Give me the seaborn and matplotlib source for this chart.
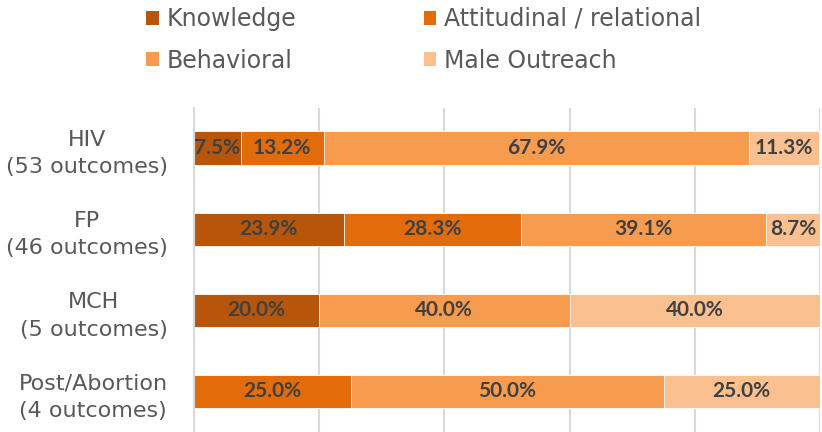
import numpy as np
import pandas as pd
import matplotlib
matplotlib.use("Agg")
import matplotlib.pyplot as plt
import seaborn as sns
from matplotlib.patches import Patch

categories = ["HIV\n(53 outcomes)", "FP\n(46 outcomes)", "MCH\n(5 outcomes)", "Post/Abortion\n(4 outcomes)"]
series_names = ["Knowledge", "Attitudinal / relational", "Behavioral", "Male Outreach"]
knowledge = [7.5, 23.9, 20.0, 0.0]
attitudinal = [13.2, 28.3, 0.0, 25.0]
behavioral = [67.9, 39.1, 40.0, 50.0]
male_outreach = [11.3, 8.7, 40.0, 25.0]
colors = ["#B7560A", "#E36C0A", "#F79B4F", "#FAC090"]

sns.set_theme(style="white")
plt.rcParams['font.family'] = ['DejaVu Sans']

values = np.array([knowledge, attitudinal, behavioral, male_outreach])
cum = np.cumsum(values, axis=0)

fig = plt.figure(figsize=(8.22, 4.32), dpi=100)
ax = fig.add_axes([0.236, 0.0, 0.7616, 0.751])

# draw cumulative bars from the last series to the first (stacked look)
for i in range(len(series_names) - 1, -1, -1):
    df = pd.DataFrame({"cat": categories, "val": cum[i]})
    sns.barplot(data=df, y="cat", x="val", orient="h", order=categories,
                color=colors[i], saturation=1, width=0.41,
                edgecolor="white", linewidth=0.6, ax=ax, zorder=2)

# data labels
for i in range(len(series_names)):
    for j in range(len(categories)):
        v = values[i, j]
        if v <= 0:
            continue
        xc = cum[i, j] - v / 2
        ax.text(xc, j, f"{v:.1f}%", ha="center", va="center",
                fontsize=15, fontweight="bold", color="#404040",
                family="Lato", zorder=5)

ax.set_xlim(0, 100)
ax.set_ylim(3.5, -0.5)
ax.set_xticks([0, 20, 40, 60, 80, 100])
ax.set_xticklabels([])
ax.tick_params(axis="x", length=0)
ax.tick_params(axis="y", length=0, pad=19, labelsize=16, labelcolor="#595959")
for lab in ax.get_yticklabels():
    lab.set_multialignment("center")
    lab.set_linespacing(1.45)
ax.grid(axis="x", color="#D9D9D9", linewidth=1.5, zorder=0)
ax.set_axisbelow(True)
ax.set_xlabel("")
ax.set_ylabel("")
for s in ["top", "right", "bottom"]:
    ax.spines[s].set_visible(False)
ax.spines["left"].set_color("#D9D9D9")
ax.spines["left"].set_linewidth(1.5)

# legend: row-major order (Knowledge, Attitudinal / Behavioral, Male Outreach)
order = [0, 2, 1, 3]
handles = [Patch(facecolor=colors[k], edgecolor="none") for k in order]
labels = [series_names[k] for k in order]
fig.legend(handles, labels, ncol=2, loc="upper left",
           bbox_to_anchor=(0.152, 1.033), frameon=False, fontsize=17,
           labelcolor="#595959", handlelength=0.55, handleheight=0.55,
           handletextpad=0.3, columnspacing=5.4, labelspacing=0.75)

fig.savefig("out.png", dpi=100)
